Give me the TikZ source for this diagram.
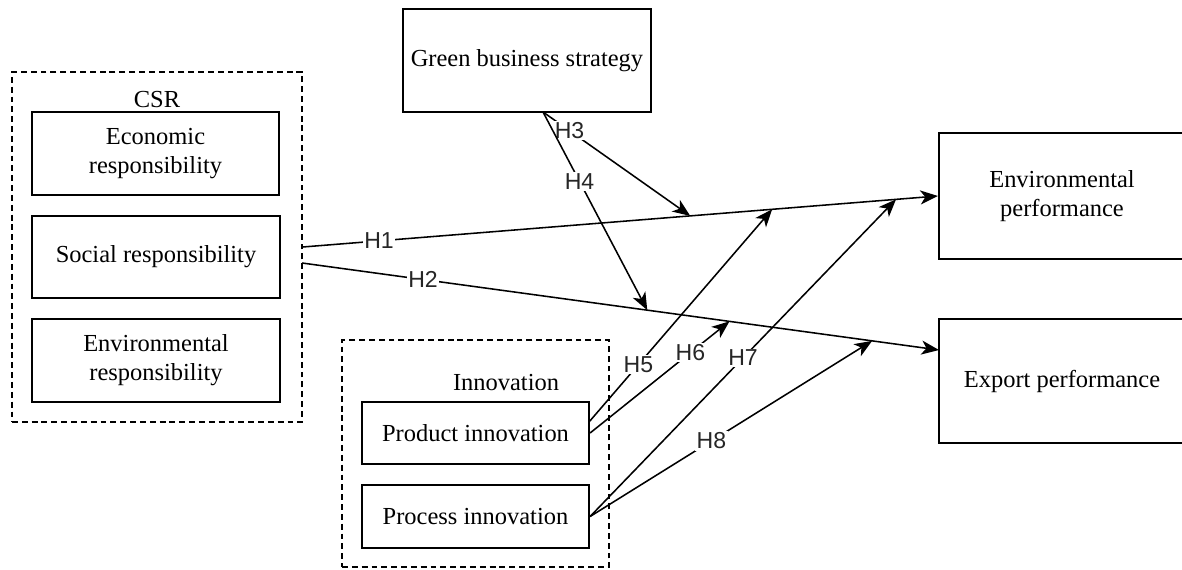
\documentclass[tikz,border=0pt]{standalone}
\usepackage{fontspec}
\setmainfont{Liberation Serif}
\newfontfamily\hypfont{Liberation Sans}
\usetikzlibrary{arrows.meta}

\tikzset{
  box/.style={draw, line width=1.5pt, align=center, inner sep=0pt,
    font=\fontsize{17.4}{20.5}\selectfont},
  group/.style={draw, line width=1.1pt, dash pattern=on 4.2pt off 2.8pt, inner sep=0pt},
  hyp/.style={-{Stealth[length=12.5pt,width=10pt,inset=3.5pt]}, line width=1.1pt},
  hlabel/.style={fill=white, inner sep=1pt, text=black!85,
    font=\hypfont\fontsize{16.4}{18}\selectfont},
  grouptitle/.style={font=\fontsize{17.4}{20.5}\selectfont}
}

\begin{document}
\begin{tikzpicture}[x=0.025cm, y=-0.025cm]
\clip (0,0) rectangle (1182,570);

%CSR block with its three dimensions
\node[group, minimum width=7.25cm, minimum height=8.75cm] (csr) at (157,247) {};
\node[grouptitle] (csrtitle) at (157,100) {CSR};
\node[box, minimum width=6.175cm, minimum height=2.075cm] (econ) at (155.5,153.5) {Economic\\responsibility};
\node[box, minimum width=6.2cm, minimum height=2.05cm] (soc) at (156,257) {Social responsibility};
\node[box, minimum width=6.2cm, minimum height=2.075cm] (envr) at (156,360.5) {Environmental\\responsibility};

%moderator on top
\node[box, minimum width=6.2cm, minimum height=2.575cm] (green) at (527,60.5) {Green business strategy};

%innovation block
\node[group, minimum width=6.675cm, minimum height=5.675cm] (innov) at (475.5,453.5) {};
\node[grouptitle] (innovtitle) at (506,383) {Innovation};
\node[box, minimum width=5.675cm, minimum height=1.55cm] (prod) at (475.5,433) {Product innovation};
\node[box, minimum width=5.675cm, minimum height=1.575cm] (proc) at (475.5,516.5) {Process innovation};

%outcomes
\node[box, minimum width=6.15cm, minimum height=3.15cm] (envp) at (1062,196) {Environmental\\performance};
\node[box, minimum width=6.15cm, minimum height=3.1cm] (expp) at (1062,381) {Export performance};

%start and end points of the main paths
\coordinate (h2s) at (302,263);
\coordinate (h2e) at (939,350);
\coordinate (gs) at (543,112);
\coordinate (ps) at (589,422);

%points on the main paths hit by the moderators
\path (csr.east) -- (envp.west) coordinate[pos=0.61] (t3) coordinate[pos=0.739] (t5) coordinate[pos=0.934] (t7);
\path (h2s) -- (h2e) coordinate[pos=0.542] (t4) coordinate[pos=0.671] (t6) coordinate[pos=0.895] (t8);

%direct effects
\draw[hyp] (csr.east) -- (envp.west) node[hlabel, pos=0.12] {H1};
\draw[hyp] (h2s) -- (h2e) node[hlabel, pos=0.19] {H2};

%moderating effects
\draw[hyp] (gs) -- (t3) node[hlabel, pos=0.18] {H3};
\draw[hyp] (gs) -- (t4) node[hlabel, pos=0.35] {H4};
\draw[hyp] (ps) -- (t5) node[hlabel, pos=0.27] {H5};
\draw[hyp] (prod.east) -- (t6) node[hlabel, pos=0.72] {H6};
\draw[hyp] (proc.east) -- (t7) node[hlabel, pos=0.5] {H7};
\draw[hyp] (proc.east) -- (t8) node[hlabel, pos=0.43] {H8};
\end{tikzpicture}
\end{document}
